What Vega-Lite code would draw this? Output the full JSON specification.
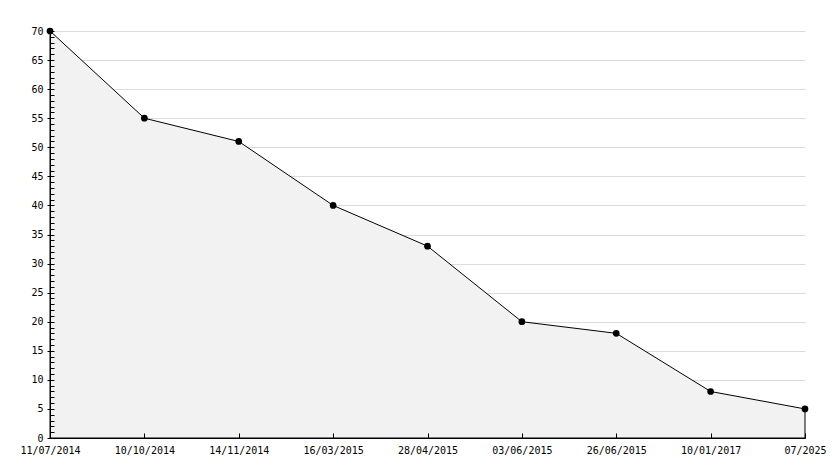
{
  "$schema": "https://vega.github.io/schema/vega-lite/v6.json",
  "autosize": {"type": "none"},
  "width": 755,
  "height": 407,
  "padding": {"left": 50, "top": 31, "right": 29, "bottom": 30},
  "background": "white",
  "config": {
    "view": {"stroke": null},
    "font": "DejaVu Sans Mono",
    "axis": {"labelFont": "DejaVu Sans Mono", "labelFontSize": 10, "labelColor": "black", "title": null, "tickColor": "black", "domainColor": "black"}
  },
  "data": {
    "values": [
      {"date": "11/07/2014", "value": 70},
      {"date": "10/10/2014", "value": 55},
      {"date": "14/11/2014", "value": 51},
      {"date": "16/03/2015", "value": 40},
      {"date": "28/04/2015", "value": 33},
      {"date": "03/06/2015", "value": 20},
      {"date": "26/06/2015", "value": 18},
      {"date": "10/01/2017", "value": 8},
      {"date": "07/2025", "value": 5}
    ]
  },
  "encoding": {
    "x": {
      "field": "date", "type": "ordinal", "sort": null,
      "scale": {"type": "point", "padding": 0},
      "axis": {"labelAngle": 0, "tickSize": -5, "tickColor": "black", "tickWidth": 1, "domainColor": "black", "domainWidth": 1, "labelPadding": 12, "grid": false, "zindex": 1}
    }
  },
  "layer": [
    {
      "mark": {"type": "area", "fill": "#f2f2f2", "stroke": "black", "strokeWidth": 1},
      "encoding": {
        "y": {"field": "value", "type": "quantitative", "scale": {"domain": [0, 70], "nice": false},
          "axis": {"values": [0,5,10,15,20,25,30,35,40,45,50,55,60,65,70], "tickSize": 3, "tickColor": "black", "tickWidth": 1, "domain": false, "labelPadding": 4, "grid": true, "gridColor": "#dcdcdc", "gridWidth": 1, "orient": "left", "zindex": 0}}
      }
    },
    {
      "mark": {"type": "point", "shape": "circle", "filled": true, "color": "black", "size": 45, "opacity": 1},
      "encoding": {
        "y": {"field": "value", "type": "quantitative", "scale": {"domain": [0, 70], "nice": false},
          "axis": {"values": [0,1,2,3,4,5,6,7,8,9,10,11,12,13,14,15,16,17,18,19,20,21,22,23,24,25,26,27,28,29,30,31,32,33,34,35,36,37,38,39,40,41,42,43,44,45,46,47,48,49,50,51,52,53,54,55,56,57,58,59,60,61,62,63,64,65,66,67,68,69,70], "tickSize": -4, "tickColor": "black", "tickWidth": 1, "labels": false, "grid": false, "domain": true, "domainColor": "black", "domainWidth": 1, "orient": "left", "zindex": 1}}
      }
    }
  ],
  "resolve": {"axis": {"y": "independent"}}
}
